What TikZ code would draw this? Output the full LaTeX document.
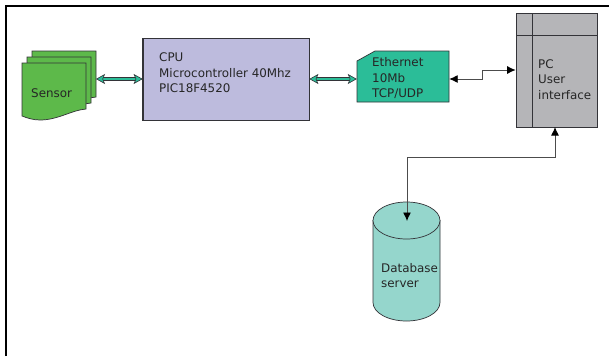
\documentclass[tikz,border=0pt]{standalone}
\usepackage{fontspec}
\setmainfont{DejaVu Sans}
\usetikzlibrary{arrows.meta}
\definecolor{sensorgreen}{HTML}{5DB94A}
\definecolor{cpuviolet}{HTML}{BDBBDD}
\definecolor{ethgreen}{HTML}{2BBD98}
\definecolor{pcgrey}{HTML}{B5B5B8}
\definecolor{dbteal}{HTML}{95D6CC}
\definecolor{edgegrey}{HTML}{333338}
\tikzset{boxtext/.style={anchor=west,align=left,inner sep=0pt,text=black!85,font=\fontsize{11.9}{15.5}\selectfont},
         document/.style={draw=edgegrey,fill=sensorgreen,line width=0.7pt},
         cpubox/.style={draw=edgegrey,fill=cpuviolet,line width=0.7pt,minimum width=166pt,minimum height=82pt,inner sep=0pt},
         ethshape/.style={draw=edgegrey,fill=ethgreen,line width=0.7pt},
         portbox/.style={minimum width=#1,inner sep=0pt},
         pcbox/.style={draw=edgegrey,fill=pcgrey,line width=0.7pt,minimum width=81pt,minimum height=114pt,inner sep=0pt},
         dbshape/.style={draw=edgegrey,fill=dbteal,line width=0.7pt},
         busarrow/.style={draw=edgegrey,double=ethgreen,double distance=2.2pt,line width=0.6pt,{Stealth[length=9pt,width=10pt,inset=2pt,fill=ethgreen]}-{Stealth[length=9pt,width=10pt,inset=2pt,fill=ethgreen]}},
         linkarrow/.style={draw=black!70,line width=0.9pt,{Latex[length=8.5pt,width=8pt,black]}-{Latex[length=8.5pt,width=8pt,black]}},
        }
\begin{document}
\begin{tikzpicture}[x=1pt,y=-1pt]
        \useasboundingbox(0,0)rectangle(609,356);
        \fill[white](0,0)rectangle(609,356);
        \draw[black,line width=2pt](5.5,356)--(5.5,6)--(609,6);

        % sensor stack
        \foreach \dx/\dy in {10/-12,5/-6,0/0}{
            \draw[document,shift={(\dx,\dy)}](22,63)--(86,63)--(86,109)
                .. controls (72,110) and (58,120) .. (40,120)
                .. controls (33,120) and (27,118) .. (22,116)--cycle;
        }
        \node[boxtext](sensor)at(31,93.5){Sensor};
        \coordinate(sensorport)at(96,79);

        \node[cpubox](cpu)at(226,79.5){};
        \draw[edgegrey,line width=1.6pt](cpu.north west)--(cpu.south west);
        \node[boxtext](cputext)at(159,73){CPU\\Microcontroller 40Mhz\\PIC18F4520};

        % ethernet card
        \draw[ethshape](357,61)--(375,51)--(449,51)--(449,102)--(357,102)--cycle;
        \node[portbox=92pt,minimum height=51pt](ethernet)at(403,76.5){};
        \node[boxtext](ethtext)at(372,78.5){Ethernet\\10Mb\\TCP/UDP};

        \node[pcbox](pc)at(556.5,70){};
        \draw[edgegrey,line width=0.7pt](532,13)--(532,127);
        \draw[edgegrey,line width=0.7pt](516,35)--(597,35);
        \node[boxtext](pctext)at(538,79.5){PC\\User\\interface};

        % database drum
        \draw[dbshape](373,220.5)--(373,302.5)
            .. controls (373,312.7) and (388,321) .. (406.5,321)
            .. controls (425,321) and (440,312.7) .. (440,302.5)
            --(440,220.5)--cycle;
        \draw[dbshape](373,220.5)
            .. controls (373,210.3) and (388,202) .. (406.5,202)
            .. controls (425,202) and (440,210.3) .. (440,220.5)
            .. controls (440,230.7) and (425,239) .. (406.5,239)
            .. controls (388,239) and (373,230.7) .. (373,220.5)--cycle;
        \node[boxtext](dbtext)at(381,275.5){Database\\server};
        \coordinate(dbport)at(407,221);

        \draw[busarrow](sensorport)--(cpu.west|-sensorport);
        \draw[busarrow](cpu.east|-sensorport)--(ethernet.west|-sensorport);
        \draw[linkarrow](ethernet.east|-sensorport)--(482,79)--(482,70)--(pc.west);
        \draw[linkarrow](dbport)--(407,157)--(555,157)--(555,127);
    \end{tikzpicture}
\end{document}
